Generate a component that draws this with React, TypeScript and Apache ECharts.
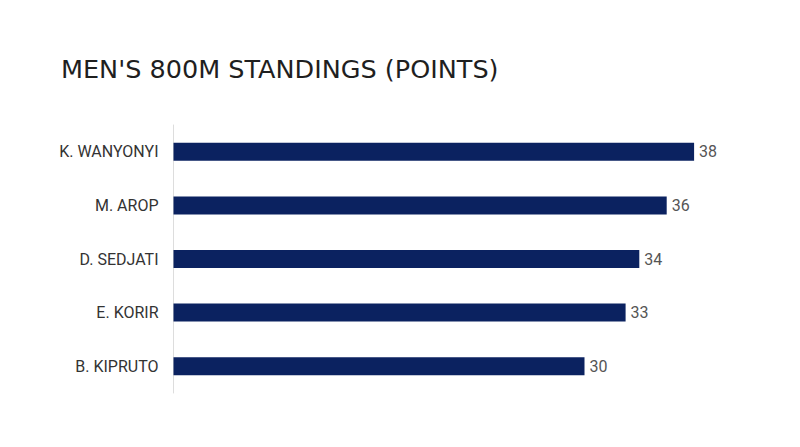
import React, { useEffect, useRef } from "react";
import * as echarts from "echarts";

const titleText = "MEN'S 800M STANDINGS (POINTS)";
const athletes = ["K. WANYONYI", "M. AROP", "D. SEDJATI", "E. KORIR", "B. KIPRUTO"];
const points = [38, 36, 34, 33, 30];

export default function App() {
  const ref = useRef<HTMLDivElement>(null);
  useEffect(() => {
    if (!ref.current) return;
    const chart = echarts.init(ref.current, null, { renderer: "svg" });
    chart.setOption({
      animation: false,
      backgroundColor: "#ffffff",
      title: {
        text: titleText,
        left: 56,
        top: 51,
        textStyle: {
          fontFamily: "DejaVu Sans",
          fontSize: 25.5,
          fontWeight: "normal",
          color: "#1f1f1f",
        },
      },
      grid: { left: 173.5, top: 125, width: 548, height: 268, containLabel: false },
      xAxis: {
        type: "value",
        min: 0,
        max: 40,
        show: false,
      },
      yAxis: {
        type: "category",
        data: athletes,
        inverse: true,
        axisLine: { show: true, lineStyle: { color: "#dddddd", width: 1 } },
        axisTick: { show: false },
        axisLabel: {
          margin: 15,
          fontFamily: "Roboto",
          fontSize: 16,
          color: "#333333",
        },
      },
      series: [
        {
          type: "bar",
          data: points,
          barWidth: 18,
          itemStyle: { color: "#0b2260" },
          label: {
            show: true,
            position: "right",
            distance: 5,
            fontFamily: "Roboto",
            fontSize: 16,
            color: "#555555",
          },
        },
      ],
    });
    return () => chart.dispose();
  }, []);
  return <div ref={ref} style={{ width: 800, height: 447, position: "absolute", left: 0, top: 0 }} />;
}
